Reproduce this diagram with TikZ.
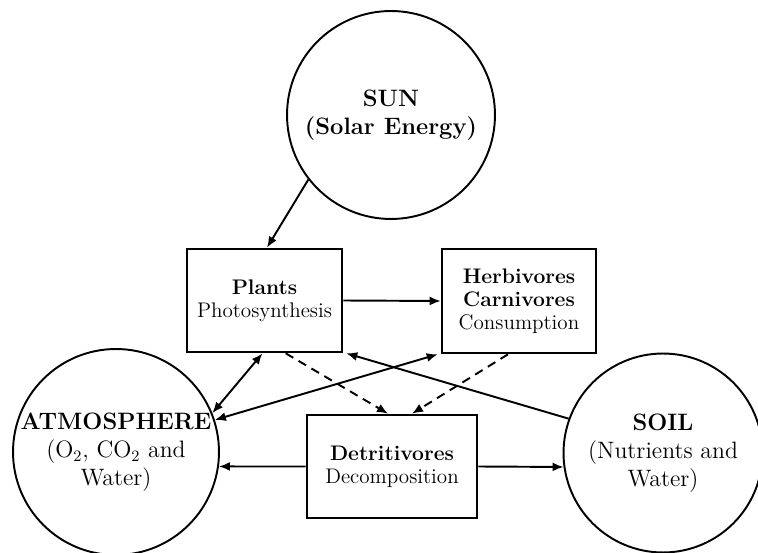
\documentclass[tikz,border=0pt]{standalone}
\usetikzlibrary{arrows.meta,calc}
\begin{document}
\begin{tikzpicture}[x=0.02cm,y=-0.02cm,
  circ/.style={circle,draw,line width=1.1pt,inner sep=0pt,align=center,font=\fontsize{13.5}{16}\selectfont},
  box/.style={rectangle,draw,line width=1.5pt,inner sep=0pt,align=center,font=\fontsize{12}{13.2}\selectfont},
  arr/.style={line width=1.1pt,-{Latex[length=2.2mm,width=1.8mm]}},
  darr/.style={line width=1.1pt,{Latex[length=2.2mm,width=1.8mm]}-{Latex[length=2.2mm,width=1.8mm]}},
  dasharr/.style={arr,dash pattern=on 5pt off 3.5pt}]
\useasboundingbox (0,0) rectangle (758,553);
% circles
\node[circ,minimum size=4.16cm] (sun) at (391,115) {\textbf{SUN}\\\textbf{(Solar Energy)}};
\node[circ,minimum size=4.04cm] (atm) at (116,452) {\textbf{ATMOSPHERE}\\(O$_2$, CO$_2$ and\\Water)};
\node[circ,minimum size=3.98cm] (soil) at (663,453) {\textbf{SOIL}\\(Nutrients and\\Water)};
% boxes
\node[box,minimum width=3.1cm,minimum height=2.06cm] (plants) at (264.5,300.5) {\textbf{Plants}\\Photosynthesis};
\node[box,minimum width=3.08cm,minimum height=2.08cm] (herb) at (519,301) {\textbf{Herbivores}\\\textbf{Carnivores}\\Consumption};
\node[box,minimum width=3.4cm,minimum height=2.06cm] (detr) at (392,466.5) {\textbf{Detritivores}\\Decomposition};
% connectors
\draw[arr] (sun.218) -- ($(plants.north)+(2.5,0)$);
\draw[arr] (plants.east) -- (herb.west);
\draw[darr] ($(plants.south)+(-2,0)$) -- (atm.22);
\draw[darr] ($(herb.south west)+(-3,0)$) -- (atm.18);
\draw[arr] (soil.160) -- ($(plants.south east)+(3,0)$);
\draw[dasharr] ($(plants.south west)+(100,0)$) -- ($(detr.north)+(-4,0)$);
\draw[dasharr] ($(herb.south)+(-11,0)$) -- ($(detr.north)+(20,0)$);
\draw[arr] (detr.west) -- (atm.-8.5);
\draw[arr] (detr.east) -- (soil.188);
\end{tikzpicture}
\end{document}
